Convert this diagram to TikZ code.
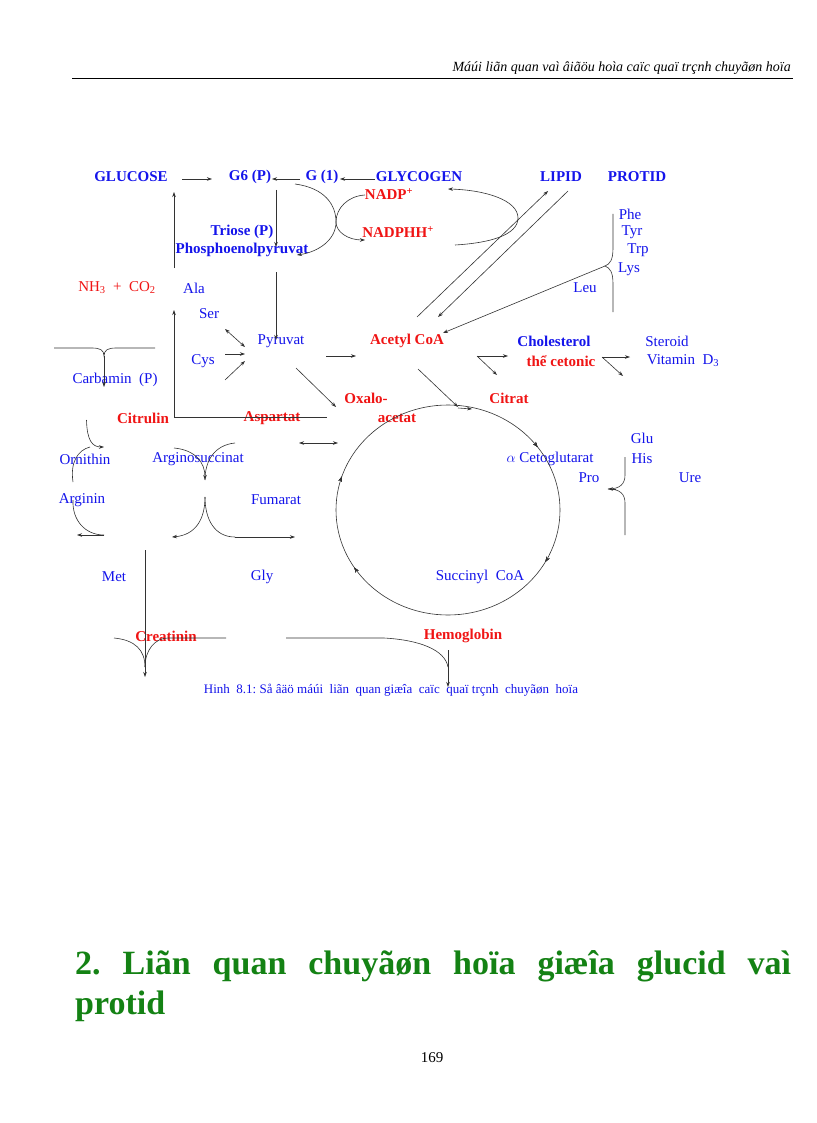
\documentclass[tikz,border=0pt]{standalone}
\usepackage{fontspec}
\setmainfont{Liberation Serif}
\frenchspacing
\usetikzlibrary{arrows.meta,decorations.markings}
\definecolor{tb}{RGB}{20,20,235}
\definecolor{tr}{RGB}{240,20,20}
\definecolor{tg}{RGB}{20,130,20}
\begin{document}
\begin{tikzpicture}[x=1pt,y=-1pt,
  bl/.style={font=\fontsize{15}{17}\selectfont\bfseries,text=tb,inner sep=0pt},
  bn/.style={font=\fontsize{15}{17}\selectfont,text=tb,inner sep=0pt},
  rb/.style={font=\fontsize{15}{17}\selectfont\bfseries,text=tr,inner sep=0pt},
  rn/.style={font=\fontsize{15}{17}\selectfont,text=tr,inner sep=0pt},
  ln/.style={draw=black!80,line width=0.6pt},
  ar/.style={ln,-{Stealth[length=5pt,width=3.5pt]}},
  dar/.style={ln,{Stealth[length=5pt,width=3.5pt]}-{Stealth[length=5pt,width=3.5pt]}},
  cw/.style={decoration={markings,mark=at position #1 with {\arrow{Stealth[length=5pt,width=3.5pt]}}},postaction=decorate}]
\useasboundingbox (0,0) rectangle (816,1123);
\fill[white] (0,0) rectangle (816,1123);
% header
\node[anchor=base east,font=\fontsize{14}{16}\selectfont\itshape,inner sep=0pt] (hdr) at (791,72) {Máúi liãn quan vaì âiãöu hoìa caïc quaï trçnh chuyãøn hoïa};
\draw[line width=0.5pt] (72,78) -- (793,78);
% nodes
\node[bl] (glu) at (131,177) {GLUCOSE};
\node[bl] (g6) at (250,177) {G6 (P)};
\node[bl] (g1) at (322,177) {G (1)};
\node[bl] (gly) at (419,177) {GLYCOGEN};
\node[bl] (lip) at (561,177) {LIPID};
\node[bl] (pro) at (637,177) {PROTID};
\node[rb] (nadp) at (389,194) {NADP\textsuperscript{+}};
\node[rb] (nadph) at (398,232) {NADPHH\textsuperscript{+}};
\node[bl] (tri) at (242,232) {Triose (P)};
\node[bl] (pep) at (242,250) {Phosphoenolpyruvat};
\node[rn] (nh3) at (117,288) {NH\textsubscript{3}\ \ +\ \ CO\textsubscript{2}};
\node[bn] (ala) at (194,288) {Ala};
\node[bn] (ser) at (209,314) {Ser};
\node[bn] (pyr) at (281,341) {Pyruvat};
\node[bn] (cys) at (203,361) {Cys};
\node[rb] (aco) at (407,341) {Acetyl CoA};
\node[bl] (chol) at (554,341) {Cholesterol};
\node[rb] (cet) at (561,361) {thể cetonic};
\node[bn] (ster) at (667,341) {Steroid};
\node[bn] (vit) at (683,361) {Vitamin\ \ D\textsubscript{3}};
\node[bn] (carb) at (115,380) {Carbamin\ \ (P)};
\node[rb] (oxa) at (366,398) {Oxalo-};
\node[rb] (oxb) at (397,418) {acetat};
\node[rb] (cit) at (509,398) {Citrat};
\node[rb] (ctl) at (143,418) {Citrulin};
\node[rb] (asp) at (272,418) {Aspartat};
\node[bn] (phe) at (630,214) {Phe};
\node[bn] (tyr) at (632,232) {Tyr};
\node[bn] (trp) at (638,250) {Trp};
\node[bn] (lys) at (629,269) {Lys};
\node[bn] (leu) at (585,288) {Leu};
\node[bn] (glut) at (642,438) {Glu};
\node[bn] (his) at (642,459) {His};
\node[bn] (prol) at (589,478) {Pro};
\node[bn] (ure) at (690,478) {Ure};
\node[bn] (orn) at (85,459) {Ornithin};
\node[bn] (ags) at (198,459) {Arginosuccinat};
\node[bn] (akg) at (550,459) {$\alpha$ Cetoglutarat};
\node[bn] (arg) at (82,500) {Arginin};
\node[bn] (fum) at (276,500) {Fumarat};
\node[bn] (met) at (114,577) {Met};
\node[bn] (gly2) at (262,577) {Gly};
\node[bn] (suc) at (480,577) {Succinyl\ \ CoA};
\node[rb] (cre) at (166,636) {Creatinin};
\node[rb] (hem) at (463,636) {Hemoglobin};
\node[font=\fontsize{13}{15}\selectfont,text=tb,inner sep=0pt] (cap) at (391,690) {Hinh\ \ 8.1: Så âäö máúi\ \ liãn\ \ quan\ giæîa\ \ caïc\ \ quaï trçnh\ \ chuyãøn\ \ hoïa};
% heading
\node[anchor=north west,text width=716pt,align=justify,font=\fontsize{34}{40}\selectfont\bfseries,text=tg,inner sep=0pt] (head) at (75,950) {2. Liãn quan chuyãøn hoïa giæîa glucid vaì\linebreak protid};
\node[font=\fontsize{15}{17}\selectfont,inner sep=0pt] (pg) at (432,1058) {169};
% top arrows
\draw[ar] (182,179) -- (212,179);
\draw[ar] (300,179) -- (272,179);
\draw[ar] (375,179) -- (340,179);
\draw[ar] (276,190) -- (276,247);
\draw[ar] (295,184) .. controls (325,188) and (336,205) .. (336,222) .. controls (336,240) and (318,252) .. (297,255);
\draw[ar] (365,195) .. controls (348,196) and (336,208) .. (336,222) .. controls (336,232) and (348,240) .. (365,240);
\draw[ar] (455,245) .. controls (490,243) and (518,235) .. (518,218) .. controls (518,200) and (485,190) .. (448,189);
\draw[ar] (276,272) -- (276,340);
\draw[ar] (174,268) -- (174,192);
\draw[ar] (174,417) -- (174,310);
\draw[ln] (174,417) -- (327,417);
\draw[dar] (225,329) -- (245,347);
\draw[ar] (225,354) -- (245,354);
\draw[ar] (225,380) -- (245,361);
\draw[ar] (326,356) -- (356,356);
\draw[ar] (296,368) -- (336,407);
\draw[ar] (417,317) -- (548,191);
\draw[ar] (568,191) -- (438,317);
\draw[ln] (613,214) -- (613,248) .. controls (613,260) and (610,264) .. (605,266) .. controls (610,268) and (613,272) .. (613,284) -- (613,312);
\draw[ar] (605,266) -- (443,333);
\draw[ar] (477,356) -- (508,356);
\draw[ar] (477,356) -- (497,375);
\draw[ar] (602,357) -- (630,357);
\draw[ar] (602,357) -- (623,376);
\draw[ar] (418,369) -- (458,407);
\draw[ar] (458,408) -- (472,409);
% circle
\draw[ln,cw/.list={0.15,0.33,0.66,0.8}] (448,405) arc[start angle=-90,end angle=270,x radius=112,y radius=105];
\draw[dar] (299,443) -- (338,443);
% carbamin
\draw[ln] (54,348) -- (92,348) .. controls (100,348) and (104,350) .. (104,356) .. controls (104,350) and (108,348) .. (116,348) -- (155,348);
\draw[ar] (104,356) -- (104,387);
\draw[ar] (86.5,420) .. controls (87,440) and (92,447) .. (104,447);
\draw[ln] (73,482) .. controls (70,462) and (78,450) .. (90,447);
\draw[ln] (73,500) .. controls (72,520) and (85,535) .. (104,535);
\draw[ar] (104,535) -- (77,535);
\draw[ar] (174,448) .. controls (195,450) and (205,462) .. (205,480);
\draw[ln] (235,443) .. controls (215,445) and (205,460) .. (205,480);
\draw[ar] (205,497) .. controls (205,520) and (195,535) .. (172,537);
\draw[ln] (205,497) .. controls (205,520) and (215,537) .. (235,537);
\draw[ar] (235,537) -- (295,537);
\draw[ar] (145,550) -- (145,677);
\draw[ln] (114,638) .. controls (135,640) and (145,650) .. (145,667);
\draw[ln] (145,667) .. controls (145,650) and (155,638) .. (168,638) -- (226,638);
\draw[ln] (286,638) -- (384,638) .. controls (420,640) and (445,650) .. (448,667);
\draw[ar] (448,650) -- (448,687);
\draw[ln] (625,457) -- (625,475) .. controls (625,484) and (620,489) .. (608,489) .. controls (620,489) and (625,494) .. (625,503) -- (625,535);
\draw[ar] (616,489) -- (608,489);
\end{tikzpicture}
\end{document}
